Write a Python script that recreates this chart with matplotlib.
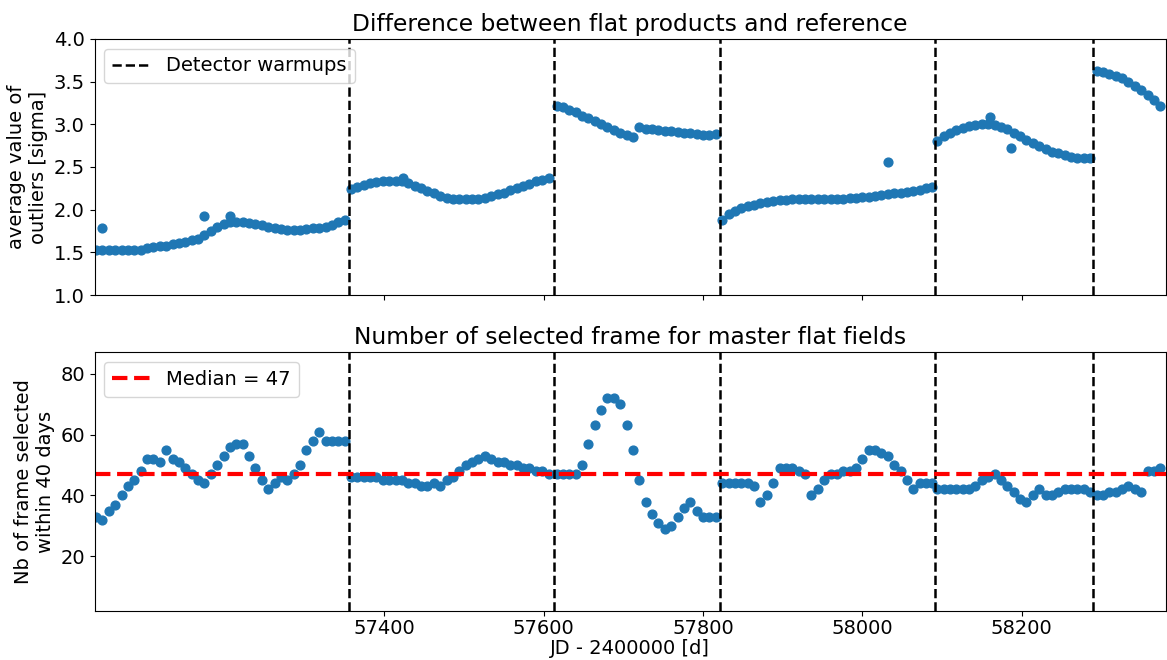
import numpy as np
import matplotlib.pyplot as plt

plt.rcParams['font.size'] = 14

# detector warmup dates (JD - 2400000)
warmups = [57355, 57613, 57821, 58091, 58290]

# start day of each segment, sampled every 8 days
seg_start = [57038, 57358, 57616, 57824, 58094, 58294]
step = 8

# average value of outliers [sigma]
outl = [
    [1.53]*8 + [1.55, 1.56, 1.57, 1.58, 1.6, 1.61, 1.62, 1.64, 1.66, 1.7, 1.75, 1.8, 1.83, 1.85, 1.86, 1.85,
                1.84, 1.83, 1.82, 1.8, 1.78, 1.77, 1.76, 1.76, 1.76, 1.77, 1.78, 1.79, 1.8, 1.82, 1.85, 1.88],
    [2.24, 2.27, 2.29, 2.31, 2.32, 2.33, 2.34, 2.34, 2.33, 2.31, 2.28, 2.25, 2.22, 2.19, 2.16, 2.14,
     2.13, 2.12, 2.12, 2.12, 2.13, 2.14, 2.16, 2.18, 2.2, 2.23, 2.25, 2.28, 2.3, 2.33, 2.35, 2.37],
    [3.22, 3.2, 3.17, 3.14, 3.1, 3.07, 3.04, 3.0, 2.97, 2.93, 2.9, 2.87, 2.85, 2.97, 2.95, 2.94,
     2.93, 2.92, 2.92, 2.91, 2.9, 2.9, 2.89, 2.88, 2.88, 2.89],
    [1.88, 1.95, 1.99, 2.02, 2.04, 2.06, 2.08, 2.09, 2.1, 2.11, 2.11, 2.12, 2.12, 2.12, 2.12, 2.12, 2.12,
     2.13, 2.13, 2.13, 2.14, 2.14, 2.15, 2.15, 2.16, 2.17, 2.18, 2.19, 2.2, 2.21, 2.22, 2.23, 2.25, 2.26],
    [2.8, 2.86, 2.9, 2.93, 2.96, 2.98, 2.99, 3.0, 3.0, 2.99, 2.97, 2.94, 2.9, 2.86, 2.82, 2.78,
     2.74, 2.71, 2.68, 2.66, 2.64, 2.62, 2.61, 2.6, 2.6],
    [3.63, 3.61, 3.59, 3.57, 3.54, 3.5, 3.45, 3.4, 3.34, 3.28, 3.22],
]
extra_days = [57046, 57174, 57206, 57423, 58032, 58160, 58187]
extra_vals = [1.78, 1.93, 1.93, 2.37, 2.56, 3.08, 2.72]

# number of selected frames within 40 days
nsel = [
    [33, 32, 35, 37, 40, 43, 45, 48, 52, 52, 51, 55, 52, 51, 49, 47, 45, 44, 47, 50,
     53, 56, 57, 57, 53, 49, 45, 42, 44, 46, 45, 47, 50, 55, 58, 61, 58, 58, 58, 58],
    [46, 46, 46, 46, 46, 45, 45, 45, 45, 44, 44, 43, 43, 44, 43, 45, 46, 48, 50, 51,
     52, 53, 52, 51, 51, 50, 50, 49, 49, 48, 48, 47],
    [47, 47, 47, 47, 50, 57, 63, 68, 72, 72, 70, 63, 55, 45, 38, 34, 31, 29, 30, 33,
     36, 38, 35, 33, 33, 33],
    [44, 44, 44, 44, 44, 43, 38, 40, 44, 49, 49, 49, 48, 47, 40, 42, 45, 47, 47, 48,
     48, 49, 52, 55, 55, 54, 53, 50, 48, 45, 42, 44, 44, 44],
    [42, 42, 42, 42, 42, 42, 43, 45, 46, 47, 45, 43, 41, 39, 38, 40, 42, 40, 40, 41,
     42, 42, 42, 42, 41],
    [40, 40, 41, 41, 42, 43, 42, 41, 48, 48, 49],
]
median_nsel = 47

fig = plt.figure(figsize=(11.67, 6.6), dpi=100)
ax1 = fig.add_axes([0.081, 0.553, 0.918, 0.388])
ax2 = fig.add_axes([0.081, 0.074, 0.918, 0.392], sharex=ax1)

for s, v, n in zip(seg_start, outl, nsel):
    ax1.scatter(s + step*np.arange(len(v)), v, s=40, color='C0')
    ax2.scatter(s + step*np.arange(len(n)), n, s=40, color='C0')
ax1.scatter(extra_days, extra_vals, s=40, color='C0')

for i, w in enumerate(warmups):
    ax1.axvline(w, color='k', ls='--', lw=1.8, label='Detector warmups' if i == 0 else None)
    ax2.axvline(w, color='k', ls='--', lw=1.8)
ax2.axhline(median_nsel, color='red', ls='--', lw=3, label='Median = %d' % median_nsel)

ax1.set_xlim(57036, 58381)
ax1.set_ylim(1.0, 4.0)
ax1.set_title('Difference between flat products and reference')
ax1.set_ylabel('average value of\noutliers [sigma]')
ax1.legend(loc='upper left')
ax1.tick_params(labelbottom=False)

ax2.set_ylim(2, 87)
ax2.set_yticks([20, 40, 60, 80])
ax2.set_xticks([57400, 57600, 57800, 58000, 58200])
ax2.tick_params(axis='x', pad=2)
ax2.set_title('Number of selected frame for master flat fields')
ax2.set_ylabel('Nb of frame selected\nwithin 40 days')
ax2.set_xlabel('JD - 2400000 [d]', labelpad=1)
ax2.legend(loc='upper left')

fig.savefig('out.png')
